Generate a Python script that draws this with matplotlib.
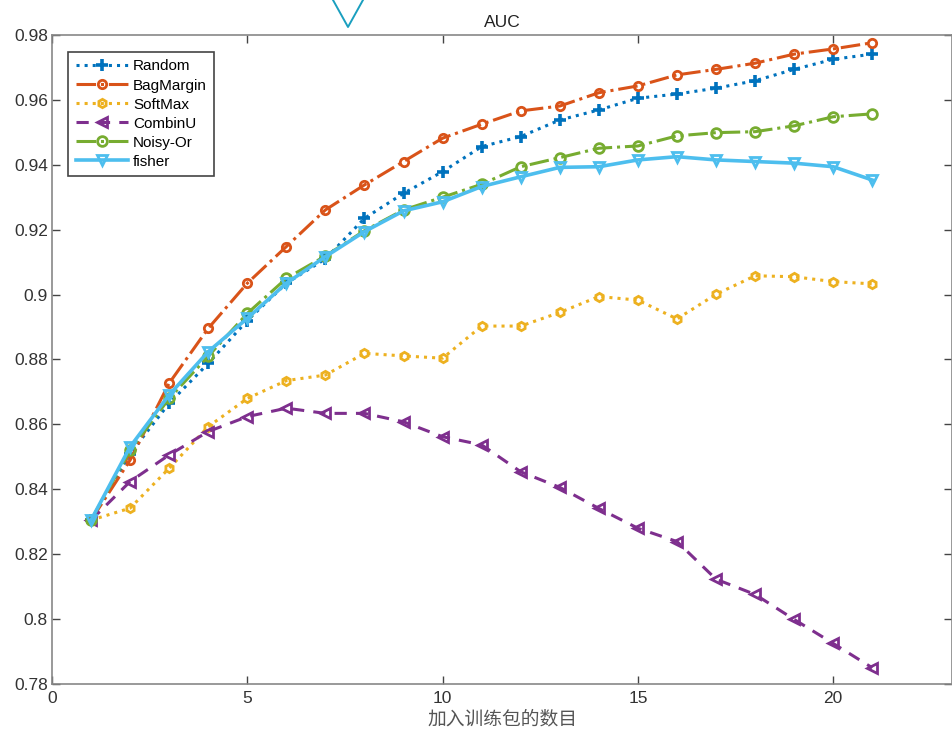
import matplotlib
matplotlib.use("Agg")
import matplotlib.pyplot as plt
from matplotlib.lines import Line2D

plt.rcParams['font.family'] = ['Liberation Sans', 'Noto Sans CJK SC', 'DejaVu Sans']

x = list(range(1, 22))
random_auc = [0.8305, 0.851, 0.8665, 0.8788, 0.892, 0.9035, 0.911, 0.9235, 0.9312, 0.9379,
              0.9456, 0.9487, 0.9538, 0.9569, 0.9605, 0.9618, 0.9636, 0.9659, 0.9694, 0.9725, 0.9741]
bagmargin_auc = [0.8305, 0.849, 0.8727, 0.8896, 0.9035, 0.9148, 0.9261, 0.9338, 0.941, 0.9482,
                 0.9525, 0.9566, 0.9581, 0.9622, 0.9643, 0.9677, 0.9694, 0.9713, 0.9741, 0.9757, 0.9776]
softmax_auc = [0.8305, 0.8342, 0.8465, 0.8593, 0.868, 0.8735, 0.8752, 0.8819, 0.8811, 0.8804,
               0.8903, 0.8903, 0.8945, 0.8994, 0.8983, 0.8925, 0.9001, 0.9058, 0.9055, 0.904, 0.9033]
combinu_auc = [0.8305, 0.8424, 0.8506, 0.8578, 0.8624, 0.865, 0.8634, 0.8634, 0.8608, 0.8562,
               0.8537, 0.8454, 0.8406, 0.8341, 0.828, 0.8239, 0.8123, 0.8076, 0.7999, 0.7925, 0.785]
noisyor_auc = [0.8305, 0.852, 0.868, 0.881, 0.8942, 0.905, 0.9119, 0.9197, 0.9261, 0.930,
               0.9340, 0.9394, 0.9422, 0.9451, 0.9458, 0.9489, 0.9499, 0.9502, 0.952, 0.9548, 0.9557]
fisher_auc = [0.8305, 0.8531, 0.8691, 0.8824, 0.8927, 0.9035, 0.9117, 0.9194, 0.9258, 0.9286,
              0.9333, 0.9363, 0.9392, 0.9394, 0.9415, 0.9425, 0.9415, 0.941, 0.9405, 0.9394, 0.9353]

labels = ['Random', 'BagMargin', 'SoftMax', 'CombinU', 'Noisy-Or', 'fisher']
xticks = [0, 5, 10, 15, 20]
yticks = [0.78, 0.80, 0.82, 0.84, 0.86, 0.88, 0.90, 0.92, 0.94, 0.96, 0.98]
ytick_labels = ['0.78', '0.8', '0.82', '0.84', '0.86', '0.88', '0.9', '0.92', '0.94', '0.96', '0.98']

fig = plt.figure(figsize=(9.52, 7.33), dpi=100)
ax = fig.add_axes([0.0546, 0.0668, 0.9454, 0.8855])

lw = 2.2
ms = 6
ax.plot(x, random_auc, color='#0072BD', linestyle=':', marker='+', markersize=8.5, markeredgewidth=2.6, lw=lw, label=labels[0])
ax.plot(x, bagmargin_auc, color='#D95319', linestyle='-.', marker='o', markersize=ms, markerfacecolor='none', markeredgewidth=2, lw=lw, label=labels[1])
ax.plot(x, softmax_auc, color='#EDB120', linestyle=':', marker='h', markersize=ms, markerfacecolor='none', markeredgewidth=2, lw=lw, label=labels[2])
ax.plot(x, combinu_auc, color='#7E2F8E', linestyle=(0, (4, 3)), marker='<', markersize=ms + 1, markerfacecolor='none', markeredgewidth=2, lw=lw, label=labels[3])
ax.plot(x, noisyor_auc, color='#77AC30', linestyle='-.', marker='o', markersize=ms + 1, markerfacecolor='none', markeredgewidth=2, lw=lw, label=labels[4])
ax.plot(x, fisher_auc, color='#4DBEEE', linestyle='-', marker='v', markersize=ms + 1, markerfacecolor='none', markeredgewidth=2, lw=2.6, label=labels[5])

ax.set_xlim(0, 23.04)
ax.set_ylim(0.78, 0.98)
ax.set_xticks(xticks)
ax.set_xticklabels([str(t) for t in xticks])
ax.set_yticks(yticks)
ax.set_yticklabels(ytick_labels)
ax.tick_params(direction='in', top=True, right=True, length=6, width=1, color='#444444',
               labelsize=12.5, labelcolor='#333333')
ax.tick_params(axis='x', pad=5)
ax.tick_params(axis='y', pad=3)
for s in ax.spines.values():
    s.set_color('#888888')
    s.set_linewidth(1.2)

ax.set_title('AUC', fontsize=12.5, color='#222222', pad=6)
ax.set_xlabel('加入训练包的数目', fontsize=13.5, color='#555555',
              family=['Noto Sans CJK SC', 'DejaVu Sans'], labelpad=2)

leg = ax.legend(loc='upper left', bbox_to_anchor=(0.0178, 0.974), fontsize=11,
                handlelength=3.4, handletextpad=0.35, borderpad=0.5, labelspacing=0.33,
                fancybox=False, framealpha=1, edgecolor='#444444', borderaxespad=0)
leg.get_frame().set_linewidth(1.2)

# cyan artifact at the top
fig.add_artist(Line2D([333 / 952, 348 / 952, 363 / 952], [1.0, 1 - 27 / 733, 1.0],
                      transform=fig.transFigure, color='#1a9fbf', lw=1.4))

fig.savefig('out.png', dpi=100)
